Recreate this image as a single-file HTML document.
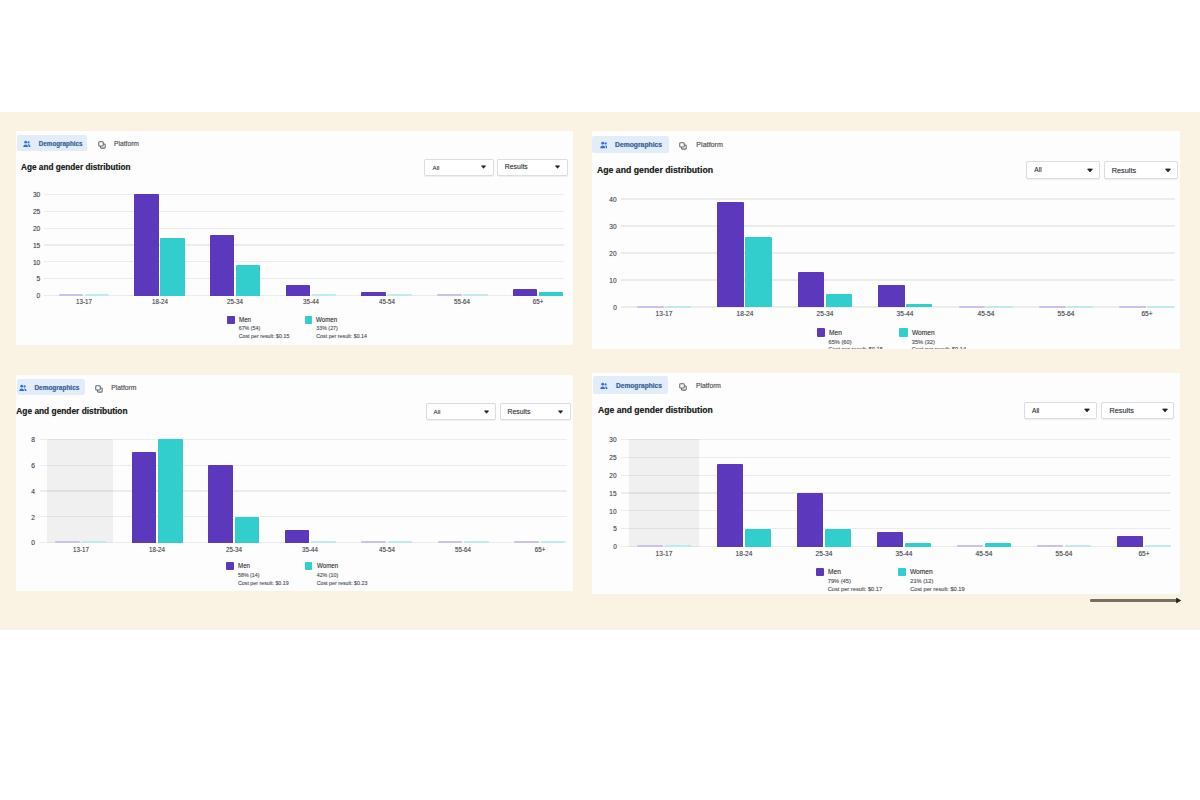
<!DOCTYPE html>
<html><head><meta charset="utf-8"><title>Age and gender distribution</title>
<style>
html,body{margin:0;padding:0;background:#fff;width:1200px;height:800px;overflow:hidden}
body{position:relative;font-family:"Liberation Sans",sans-serif}
div,span,svg{position:absolute;display:block}
span{white-space:nowrap;text-shadow:0 0 0.7px rgba(40,40,40,0.45)}
.band{left:0;top:112px;width:1200px;height:518px;background:#faf2e3}
.panel{background:#fdfdfd;overflow:hidden}
</style></head><body>
<div class="band"></div>
<div class="panel" style="left:16px;top:131px;width:557px;height:214px">
<div style="left:-16px;top:-131px;width:1200px;height:800px">
<div style="left:16.8px;top:134.5px;width:70.7px;height:16.5px;background:#e3edf9;border-radius:2px"></div>
<svg style="left:23.2px;top:140.05px" width="7.7" height="7.7" viewBox="0 0 16 16"><circle cx="5.5" cy="4.5" r="2.8" fill="#2d6ee0"/><path d="M0.5 14.5c0-3.2 2.2-5.3 5-5.3s5 2.1 5 5.3z" fill="#2d6ee0"/><circle cx="11.5" cy="5" r="2.3" fill="#2d6ee0"/><path d="M11.5 9c2.3 0 4 1.8 4 5.5h-3.6c0-2.2-.6-3.9-1.8-5.2.4-.2.9-.3 1.4-.3z" fill="#2d6ee0"/></svg>
<span style="left:38.75px;top:140.08px;font-size:6.3px;line-height:7.24px;color:#3a6aa8;font-weight:bold;">Demographics</span>
<svg style="left:98px;top:141px" width="8" height="8" viewBox="0 0 16 16" fill="none" stroke="#666a70" stroke-width="2.1"><rect x="1.5" y="1.5" width="9" height="8.5" rx="1.6"/><path d="M5 10v2.6a1.6 1.6 0 0 0 1.6 1.6h6.2a1.6 1.6 0 0 0 1.6-1.6v-5a1.6 1.6 0 0 0-1.6-1.6h-2.3"/></svg>
<span style="left:114px;top:139.94px;font-size:6.71px;line-height:7.72px;color:#55585e;font-weight:normal;">Platform</span>
<span style="left:21px;top:162.97px;font-size:8.22px;line-height:9.45px;color:#1c1e21;font-weight:bold;">Age and gender distribution</span>
<div style="left:424px;top:159px;width:70px;height:16.7px;border:1px solid #dcdde1;border-radius:2px;box-sizing:border-box;background:#fff;box-shadow:0 0.5px 1px rgba(0,0,0,0.06)"></div>
<span style="left:432.5px;top:163.78px;font-size:6.2px;line-height:7.13px;color:#3b3e44;font-weight:normal;">All</span>
<svg style="left:481.45px;top:165.39px" width="5.1" height="4.25" viewBox="0 0 6 5"><path d="M0.6 1 H5.4 L3 3.9 Z" fill="#222" stroke="#222" stroke-width="0.8" stroke-linejoin="round"/></svg>
<div style="left:497px;top:159px;width:70.5px;height:16.7px;border:1px solid #dcdde1;border-radius:2px;box-sizing:border-box;background:#fff;box-shadow:0 0.5px 1px rgba(0,0,0,0.06)"></div>
<span style="left:504.8px;top:163.38px;font-size:6.9px;line-height:7.93px;color:#3b3e44;font-weight:normal;">Results</span>
<svg style="left:555.25px;top:165.39px" width="5.1" height="4.25" viewBox="0 0 6 5"><path d="M0.6 1 H5.4 L3 3.9 Z" fill="#222" stroke="#222" stroke-width="0.8" stroke-linejoin="round"/></svg>
<div style="left:43.75px;top:294.9px;width:520.25px;height:1.2px;background:rgba(0,0,0,0.065)"></div>
<span style="left:40.3px;top:292.27px;width:0;font-size:6.67px;line-height:7.67px;color:#4d5056;font-weight:normal;"><span style="position:absolute;right:0;top:0;">0</span></span>
<div style="left:43.75px;top:278.05px;width:520.25px;height:1.2px;background:rgba(0,0,0,0.065)"></div>
<span style="left:40.3px;top:275.42px;width:0;font-size:6.67px;line-height:7.67px;color:#4d5056;font-weight:normal;"><span style="position:absolute;right:0;top:0;">5</span></span>
<div style="left:43.75px;top:261.2px;width:520.25px;height:1.2px;background:rgba(0,0,0,0.065)"></div>
<span style="left:40.3px;top:258.57px;width:0;font-size:6.67px;line-height:7.67px;color:#4d5056;font-weight:normal;"><span style="position:absolute;right:0;top:0;">10</span></span>
<div style="left:43.75px;top:244.35px;width:520.25px;height:1.2px;background:rgba(0,0,0,0.065)"></div>
<span style="left:40.3px;top:241.72px;width:0;font-size:6.67px;line-height:7.67px;color:#4d5056;font-weight:normal;"><span style="position:absolute;right:0;top:0;">15</span></span>
<div style="left:43.75px;top:227.5px;width:520.25px;height:1.2px;background:rgba(0,0,0,0.065)"></div>
<span style="left:40.3px;top:224.87px;width:0;font-size:6.67px;line-height:7.67px;color:#4d5056;font-weight:normal;"><span style="position:absolute;right:0;top:0;">20</span></span>
<div style="left:43.75px;top:210.65px;width:520.25px;height:1.2px;background:rgba(0,0,0,0.065)"></div>
<span style="left:40.3px;top:208.02px;width:0;font-size:6.67px;line-height:7.67px;color:#4d5056;font-weight:normal;"><span style="position:absolute;right:0;top:0;">25</span></span>
<div style="left:43.75px;top:193.8px;width:520.25px;height:1.2px;background:rgba(0,0,0,0.065)"></div>
<span style="left:40.3px;top:191.17px;width:0;font-size:6.67px;line-height:7.67px;color:#4d5056;font-weight:normal;"><span style="position:absolute;right:0;top:0;">30</span></span>
<div style="left:58.51px;top:294.3px;width:24.5px;height:1.8px;background:#cbc2ea;border-radius:1px"></div>
<div style="left:84.51px;top:294.3px;width:24.5px;height:1.8px;background:#c0ebeb;border-radius:1px"></div>
<span style="left:83.76px;top:298.25px;width:0;font-size:6.7px;line-height:7.7px;color:#4d5056;font-weight:normal;"><span style="position:absolute;left:0;top:0;transform:translateX(-50%) scaleX(0.93)">13-17</span></span>
<div style="left:134.25px;top:194.4px;width:24.5px;height:101.4px;background:#5c38bc;border-radius:1px 1px 0 0"></div>
<div style="left:160.25px;top:238.21px;width:24.5px;height:57.59px;background:#32cdcd;border-radius:1px 1px 0 0"></div>
<span style="left:159.5px;top:298.25px;width:0;font-size:6.7px;line-height:7.7px;color:#4d5056;font-weight:normal;"><span style="position:absolute;left:0;top:0;transform:translateX(-50%) scaleX(0.93)">18-24</span></span>
<div style="left:209.99px;top:234.84px;width:24.5px;height:60.96px;background:#5c38bc;border-radius:1px 1px 0 0"></div>
<div style="left:235.99px;top:265.17px;width:24.5px;height:30.63px;background:#32cdcd;border-radius:1px 1px 0 0"></div>
<span style="left:235.24px;top:298.25px;width:0;font-size:6.7px;line-height:7.7px;color:#4d5056;font-weight:normal;"><span style="position:absolute;left:0;top:0;transform:translateX(-50%) scaleX(0.93)">25-34</span></span>
<div style="left:285.73px;top:285.39px;width:24.5px;height:10.41px;background:#5c38bc;border-radius:1px 1px 0 0"></div>
<div style="left:311.73px;top:294.3px;width:24.5px;height:1.8px;background:#c0ebeb;border-radius:1px"></div>
<span style="left:310.98px;top:298.25px;width:0;font-size:6.7px;line-height:7.7px;color:#4d5056;font-weight:normal;"><span style="position:absolute;left:0;top:0;transform:translateX(-50%) scaleX(0.93)">35-44</span></span>
<div style="left:361.47px;top:292.13px;width:24.5px;height:3.67px;background:#5c38bc;border-radius:1px 1px 0 0"></div>
<div style="left:387.47px;top:294.3px;width:24.5px;height:1.8px;background:#c0ebeb;border-radius:1px"></div>
<span style="left:386.72px;top:298.25px;width:0;font-size:6.7px;line-height:7.7px;color:#4d5056;font-weight:normal;"><span style="position:absolute;left:0;top:0;transform:translateX(-50%) scaleX(0.93)">45-54</span></span>
<div style="left:437.21px;top:294.3px;width:24.5px;height:1.8px;background:#cbc2ea;border-radius:1px"></div>
<div style="left:463.21px;top:294.3px;width:24.5px;height:1.8px;background:#c0ebeb;border-radius:1px"></div>
<span style="left:462.46px;top:298.25px;width:0;font-size:6.7px;line-height:7.7px;color:#4d5056;font-weight:normal;"><span style="position:absolute;left:0;top:0;transform:translateX(-50%) scaleX(0.93)">55-64</span></span>
<div style="left:512.95px;top:288.76px;width:24.5px;height:7.04px;background:#5c38bc;border-radius:1px 1px 0 0"></div>
<div style="left:538.95px;top:292.13px;width:24.5px;height:3.67px;background:#32cdcd;border-radius:1px 1px 0 0"></div>
<span style="left:538.2px;top:298.25px;width:0;font-size:6.7px;line-height:7.7px;color:#4d5056;font-weight:normal;"><span style="position:absolute;left:0;top:0;transform:translateX(-50%) scaleX(0.93)">65+</span></span>
<div style="left:227.3px;top:316.2px;width:7.6px;height:7.6px;background:#5c38bc;border-radius:1px"></div>
<span style="left:238.7px;top:315.78px;font-size:6.82px;line-height:7.84px;color:#3d4046;font-weight:normal;transform:scaleX(0.91);transform-origin:0 50%;">Men</span>
<span style="left:238.7px;top:325.25px;font-size:5.3px;line-height:6.09px;color:#55585e;font-weight:normal;">67% (54)</span>
<span style="left:238.7px;top:333.39px;font-size:5.3px;line-height:6.09px;color:#55585e;font-weight:normal;">Cost per result: $0.15</span>
<div style="left:304.5px;top:316.2px;width:7.6px;height:7.6px;background:#32cdcd;border-radius:1px"></div>
<span style="left:316.3px;top:315.78px;font-size:6.82px;line-height:7.84px;color:#3d4046;font-weight:normal;transform:scaleX(0.91);transform-origin:0 50%;">Women</span>
<span style="left:316.3px;top:325.25px;font-size:5.3px;line-height:6.09px;color:#55585e;font-weight:normal;">33% (27)</span>
<span style="left:316.3px;top:333.39px;font-size:5.3px;line-height:6.09px;color:#55585e;font-weight:normal;">Cost per result: $0.14</span>
</div></div>
<div class="panel" style="left:592px;top:131px;width:588px;height:218px">
<div style="left:-592px;top:-131px;width:1200px;height:800px">
<div style="left:592px;top:135.5px;width:76.9px;height:17.1px;background:#e3edf9;border-radius:2px"></div>
<svg style="left:599.5px;top:141.05px" width="7.9" height="7.9" viewBox="0 0 16 16"><circle cx="5.5" cy="4.5" r="2.8" fill="#2d6ee0"/><path d="M0.5 14.5c0-3.2 2.2-5.3 5-5.3s5 2.1 5 5.3z" fill="#2d6ee0"/><circle cx="11.5" cy="5" r="2.3" fill="#2d6ee0"/><path d="M11.5 9c2.3 0 4 1.8 4 5.5h-3.6c0-2.2-.6-3.9-1.8-5.2.4-.2.9-.3 1.4-.3z" fill="#2d6ee0"/></svg>
<span style="left:615px;top:141.09px;font-size:6.79px;line-height:7.81px;color:#3a6aa8;font-weight:bold;">Demographics</span>
<svg style="left:679px;top:142.3px" width="8" height="8" viewBox="0 0 16 16" fill="none" stroke="#666a70" stroke-width="2.1"><rect x="1.5" y="1.5" width="9" height="8.5" rx="1.6"/><path d="M5 10v2.6a1.6 1.6 0 0 0 1.6 1.6h6.2a1.6 1.6 0 0 0 1.6-1.6v-5a1.6 1.6 0 0 0-1.6-1.6h-2.3"/></svg>
<span style="left:696.3px;top:140.98px;font-size:7.17px;line-height:8.25px;color:#55585e;font-weight:normal;">Platform</span>
<span style="left:597px;top:165.44px;font-size:8.71px;line-height:10.02px;color:#1c1e21;font-weight:bold;">Age and gender distribution</span>
<div style="left:1026px;top:161px;width:74px;height:18.2px;border:1px solid #dcdde1;border-radius:2px;box-sizing:border-box;background:#fff;box-shadow:0 0.5px 1px rgba(0,0,0,0.06)"></div>
<span style="left:1034.3px;top:166.31px;font-size:6.6px;line-height:7.59px;color:#3b3e44;font-weight:normal;">All</span>
<svg style="left:1086.5px;top:167.8px" width="6" height="5" viewBox="0 0 6 5"><path d="M0.6 1 H5.4 L3 3.9 Z" fill="#222" stroke="#222" stroke-width="0.8" stroke-linejoin="round"/></svg>
<div style="left:1103.5px;top:161px;width:74.5px;height:18.2px;border:1px solid #dcdde1;border-radius:2px;box-sizing:border-box;background:#fff;box-shadow:0 0.5px 1px rgba(0,0,0,0.06)"></div>
<span style="left:1111.8px;top:166.5px;font-size:7.3px;line-height:8.39px;color:#3b3e44;font-weight:normal;">Results</span>
<svg style="left:1165.3px;top:167.8px" width="6" height="5" viewBox="0 0 6 5"><path d="M0.6 1 H5.4 L3 3.9 Z" fill="#222" stroke="#222" stroke-width="0.8" stroke-linejoin="round"/></svg>
<div style="left:621px;top:306.4px;width:554px;height:1.2px;background:rgba(0,0,0,0.065)"></div>
<span style="left:617px;top:303.7px;width:0;font-size:6.78px;line-height:7.8px;color:#4d5056;font-weight:normal;"><span style="position:absolute;right:0;top:0;transform:scaleX(0.96);transform-origin:100% 50%;">0</span></span>
<div style="left:621px;top:279.4px;width:554px;height:1.2px;background:rgba(0,0,0,0.065)"></div>
<span style="left:617px;top:276.7px;width:0;font-size:6.78px;line-height:7.8px;color:#4d5056;font-weight:normal;"><span style="position:absolute;right:0;top:0;transform:scaleX(0.96);transform-origin:100% 50%;">10</span></span>
<div style="left:621px;top:252.4px;width:554px;height:1.2px;background:rgba(0,0,0,0.065)"></div>
<span style="left:617px;top:249.7px;width:0;font-size:6.78px;line-height:7.8px;color:#4d5056;font-weight:normal;"><span style="position:absolute;right:0;top:0;transform:scaleX(0.96);transform-origin:100% 50%;">20</span></span>
<div style="left:621px;top:225.4px;width:554px;height:1.2px;background:rgba(0,0,0,0.065)"></div>
<span style="left:617px;top:222.7px;width:0;font-size:6.78px;line-height:7.8px;color:#4d5056;font-weight:normal;"><span style="position:absolute;right:0;top:0;transform:scaleX(0.96);transform-origin:100% 50%;">30</span></span>
<div style="left:621px;top:198.4px;width:554px;height:1.2px;background:rgba(0,0,0,0.065)"></div>
<span style="left:617px;top:195.7px;width:0;font-size:6.78px;line-height:7.8px;color:#4d5056;font-weight:normal;"><span style="position:absolute;right:0;top:0;transform:scaleX(0.96);transform-origin:100% 50%;">40</span></span>
<div style="left:637px;top:305.8px;width:26.5px;height:1.8px;background:#cbc2ea;border-radius:1px"></div>
<div style="left:664.7px;top:305.8px;width:26.5px;height:1.8px;background:#c0ebeb;border-radius:1px"></div>
<span style="left:664.1px;top:310.1px;width:0;font-size:7.13px;line-height:8.2px;color:#4d5056;font-weight:normal;"><span style="position:absolute;left:0;top:0;transform:translateX(-50%) scaleX(0.93)">13-17</span></span>
<div style="left:717.4px;top:201.7px;width:26.5px;height:105.6px;background:#5c38bc;border-radius:1px 1px 0 0"></div>
<div style="left:745.1px;top:236.8px;width:26.5px;height:70.5px;background:#32cdcd;border-radius:1px 1px 0 0"></div>
<span style="left:744.5px;top:310.1px;width:0;font-size:7.13px;line-height:8.2px;color:#4d5056;font-weight:normal;"><span style="position:absolute;left:0;top:0;transform:translateX(-50%) scaleX(0.93)">18-24</span></span>
<div style="left:797.8px;top:271.9px;width:26.5px;height:35.4px;background:#5c38bc;border-radius:1px 1px 0 0"></div>
<div style="left:825.5px;top:293.5px;width:26.5px;height:13.8px;background:#32cdcd;border-radius:1px 1px 0 0"></div>
<span style="left:824.9px;top:310.1px;width:0;font-size:7.13px;line-height:8.2px;color:#4d5056;font-weight:normal;"><span style="position:absolute;left:0;top:0;transform:translateX(-50%) scaleX(0.93)">25-34</span></span>
<div style="left:878.2px;top:285.4px;width:26.5px;height:21.9px;background:#5c38bc;border-radius:1px 1px 0 0"></div>
<div style="left:905.9px;top:304.3px;width:26.5px;height:3px;background:#32cdcd;border-radius:1px 1px 0 0"></div>
<span style="left:905.3px;top:310.1px;width:0;font-size:7.13px;line-height:8.2px;color:#4d5056;font-weight:normal;"><span style="position:absolute;left:0;top:0;transform:translateX(-50%) scaleX(0.93)">35-44</span></span>
<div style="left:958.6px;top:305.8px;width:26.5px;height:1.8px;background:#cbc2ea;border-radius:1px"></div>
<div style="left:986.3px;top:305.8px;width:26.5px;height:1.8px;background:#c0ebeb;border-radius:1px"></div>
<span style="left:985.7px;top:310.1px;width:0;font-size:7.13px;line-height:8.2px;color:#4d5056;font-weight:normal;"><span style="position:absolute;left:0;top:0;transform:translateX(-50%) scaleX(0.93)">45-54</span></span>
<div style="left:1039px;top:305.8px;width:26.5px;height:1.8px;background:#cbc2ea;border-radius:1px"></div>
<div style="left:1066.7px;top:305.8px;width:26.5px;height:1.8px;background:#c0ebeb;border-radius:1px"></div>
<span style="left:1066.1px;top:310.1px;width:0;font-size:7.13px;line-height:8.2px;color:#4d5056;font-weight:normal;"><span style="position:absolute;left:0;top:0;transform:translateX(-50%) scaleX(0.93)">55-64</span></span>
<div style="left:1119.4px;top:305.8px;width:26.5px;height:1.8px;background:#cbc2ea;border-radius:1px"></div>
<div style="left:1147.1px;top:305.8px;width:26.5px;height:1.8px;background:#c0ebeb;border-radius:1px"></div>
<span style="left:1146.5px;top:310.1px;width:0;font-size:7.13px;line-height:8.2px;color:#4d5056;font-weight:normal;"><span style="position:absolute;left:0;top:0;transform:translateX(-50%) scaleX(0.93)">65+</span></span>
<div style="left:816.6px;top:328.2px;width:8.6px;height:8.6px;background:#5c38bc;border-radius:1px"></div>
<span style="left:828.5px;top:328.78px;font-size:7.26px;line-height:8.35px;color:#3d4046;font-weight:normal;transform:scaleX(0.91);transform-origin:0 50%;">Men</span>
<span style="left:828.5px;top:338.62px;font-size:5.7px;line-height:6.55px;color:#55585e;font-weight:normal;">65% (60)</span>
<span style="left:828.5px;top:346.42px;font-size:5.7px;line-height:6.55px;color:#55585e;font-weight:normal;">Cost per result: $0.15</span>
<div style="left:899.1px;top:328.2px;width:8.6px;height:8.6px;background:#32cdcd;border-radius:1px"></div>
<span style="left:911.75px;top:328.78px;font-size:7.26px;line-height:8.35px;color:#3d4046;font-weight:normal;transform:scaleX(0.91);transform-origin:0 50%;">Women</span>
<span style="left:911.75px;top:338.62px;font-size:5.7px;line-height:6.55px;color:#55585e;font-weight:normal;">35% (32)</span>
<span style="left:911.75px;top:346.42px;font-size:5.7px;line-height:6.55px;color:#55585e;font-weight:normal;">Cost per result: $0.14</span>
</div></div>
<div class="panel" style="left:16px;top:375px;width:557px;height:216px">
<div style="left:-16px;top:-375px;width:1200px;height:800px">
<div style="left:16.5px;top:379.1px;width:68.1px;height:15.7px;background:#e3edf9;border-radius:2px"></div>
<svg style="left:19.2px;top:384px" width="7.8" height="7.8" viewBox="0 0 16 16"><circle cx="5.5" cy="4.5" r="2.8" fill="#2d6ee0"/><path d="M0.5 14.5c0-3.2 2.2-5.3 5-5.3s5 2.1 5 5.3z" fill="#2d6ee0"/><circle cx="11.5" cy="5" r="2.3" fill="#2d6ee0"/><path d="M11.5 9c2.3 0 4 1.8 4 5.5h-3.6c0-2.2-.6-3.9-1.8-5.2.4-.2.9-.3 1.4-.3z" fill="#2d6ee0"/></svg>
<span style="left:34.4px;top:383.58px;font-size:6.48px;line-height:7.45px;color:#3a6aa8;font-weight:bold;">Demographics</span>
<svg style="left:95px;top:384.6px" width="8" height="8" viewBox="0 0 16 16" fill="none" stroke="#666a70" stroke-width="2.1"><rect x="1.5" y="1.5" width="9" height="8.5" rx="1.6"/><path d="M5 10v2.6a1.6 1.6 0 0 0 1.6 1.6h6.2a1.6 1.6 0 0 0 1.6-1.6v-5a1.6 1.6 0 0 0-1.6-1.6h-2.3"/></svg>
<span style="left:111.3px;top:383.51px;font-size:6.77px;line-height:7.78px;color:#55585e;font-weight:normal;">Platform</span>
<span style="left:16.3px;top:407.14px;font-size:8.36px;line-height:9.62px;color:#1c1e21;font-weight:bold;">Age and gender distribution</span>
<div style="left:425.6px;top:403.2px;width:70.7px;height:17.1px;border:1px solid #dcdde1;border-radius:2px;box-sizing:border-box;background:#fff;box-shadow:0 0.5px 1px rgba(0,0,0,0.06)"></div>
<span style="left:433.5px;top:408.19px;font-size:6.2px;line-height:7.13px;color:#3b3e44;font-weight:normal;">All</span>
<svg style="left:483.95px;top:409.8px" width="5.1" height="4.25" viewBox="0 0 6 5"><path d="M0.6 1 H5.4 L3 3.9 Z" fill="#222" stroke="#222" stroke-width="0.8" stroke-linejoin="round"/></svg>
<div style="left:499.9px;top:403.2px;width:71.1px;height:17.1px;border:1px solid #dcdde1;border-radius:2px;box-sizing:border-box;background:#fff;box-shadow:0 0.5px 1px rgba(0,0,0,0.06)"></div>
<span style="left:507.5px;top:407.78px;font-size:6.9px;line-height:7.93px;color:#3b3e44;font-weight:normal;">Results</span>
<svg style="left:558.45px;top:409.8px" width="5.1" height="4.25" viewBox="0 0 6 5"><path d="M0.6 1 H5.4 L3 3.9 Z" fill="#222" stroke="#222" stroke-width="0.8" stroke-linejoin="round"/></svg>
<div style="left:47px;top:438.6px;width:66.4px;height:104px;background:#f0f0f0"></div>
<div style="left:40px;top:542px;width:527px;height:1.2px;background:rgba(0,0,0,0.065)"></div>
<span style="left:35px;top:539.37px;width:0;font-size:6.67px;line-height:7.67px;color:#4d5056;font-weight:normal;"><span style="position:absolute;right:0;top:0;">0</span></span>
<div style="left:40px;top:516.2px;width:527px;height:1.2px;background:rgba(0,0,0,0.065)"></div>
<span style="left:35px;top:513.57px;width:0;font-size:6.67px;line-height:7.67px;color:#4d5056;font-weight:normal;"><span style="position:absolute;right:0;top:0;">2</span></span>
<div style="left:40px;top:490.4px;width:527px;height:1.2px;background:rgba(0,0,0,0.065)"></div>
<span style="left:35px;top:487.77px;width:0;font-size:6.67px;line-height:7.67px;color:#4d5056;font-weight:normal;"><span style="position:absolute;right:0;top:0;">4</span></span>
<div style="left:40px;top:464.6px;width:527px;height:1.2px;background:rgba(0,0,0,0.065)"></div>
<span style="left:35px;top:461.97px;width:0;font-size:6.67px;line-height:7.67px;color:#4d5056;font-weight:normal;"><span style="position:absolute;right:0;top:0;">6</span></span>
<div style="left:40px;top:438.8px;width:527px;height:1.2px;background:rgba(0,0,0,0.065)"></div>
<span style="left:35px;top:436.17px;width:0;font-size:6.67px;line-height:7.67px;color:#4d5056;font-weight:normal;"><span style="position:absolute;right:0;top:0;">8</span></span>
<div style="left:55.4px;top:541.4px;width:24.5px;height:1.8px;background:#cbc2ea;border-radius:1px"></div>
<div style="left:81.5px;top:541.4px;width:24.5px;height:1.8px;background:#c0ebeb;border-radius:1px"></div>
<span style="left:80.7px;top:545.75px;width:0;font-size:6.7px;line-height:7.7px;color:#4d5056;font-weight:normal;"><span style="position:absolute;left:0;top:0;transform:translateX(-50%) scaleX(0.93)">13-17</span></span>
<div style="left:131.9px;top:452.3px;width:24.5px;height:90.6px;background:#5c38bc;border-radius:1px 1px 0 0"></div>
<div style="left:158px;top:439.4px;width:24.5px;height:103.5px;background:#32cdcd;border-radius:1px 1px 0 0"></div>
<span style="left:157.2px;top:545.75px;width:0;font-size:6.7px;line-height:7.7px;color:#4d5056;font-weight:normal;"><span style="position:absolute;left:0;top:0;transform:translateX(-50%) scaleX(0.93)">18-24</span></span>
<div style="left:208.4px;top:465.2px;width:24.5px;height:77.7px;background:#5c38bc;border-radius:1px 1px 0 0"></div>
<div style="left:234.5px;top:516.8px;width:24.5px;height:26.1px;background:#32cdcd;border-radius:1px 1px 0 0"></div>
<span style="left:233.7px;top:545.75px;width:0;font-size:6.7px;line-height:7.7px;color:#4d5056;font-weight:normal;"><span style="position:absolute;left:0;top:0;transform:translateX(-50%) scaleX(0.93)">25-34</span></span>
<div style="left:284.9px;top:529.7px;width:24.5px;height:13.2px;background:#5c38bc;border-radius:1px 1px 0 0"></div>
<div style="left:311px;top:541.4px;width:24.5px;height:1.8px;background:#c0ebeb;border-radius:1px"></div>
<span style="left:310.2px;top:545.75px;width:0;font-size:6.7px;line-height:7.7px;color:#4d5056;font-weight:normal;"><span style="position:absolute;left:0;top:0;transform:translateX(-50%) scaleX(0.93)">35-44</span></span>
<div style="left:361.4px;top:541.4px;width:24.5px;height:1.8px;background:#cbc2ea;border-radius:1px"></div>
<div style="left:387.5px;top:541.4px;width:24.5px;height:1.8px;background:#c0ebeb;border-radius:1px"></div>
<span style="left:386.7px;top:545.75px;width:0;font-size:6.7px;line-height:7.7px;color:#4d5056;font-weight:normal;"><span style="position:absolute;left:0;top:0;transform:translateX(-50%) scaleX(0.93)">45-54</span></span>
<div style="left:437.9px;top:541.4px;width:24.5px;height:1.8px;background:#cbc2ea;border-radius:1px"></div>
<div style="left:464px;top:541.4px;width:24.5px;height:1.8px;background:#c0ebeb;border-radius:1px"></div>
<span style="left:463.2px;top:545.75px;width:0;font-size:6.7px;line-height:7.7px;color:#4d5056;font-weight:normal;"><span style="position:absolute;left:0;top:0;transform:translateX(-50%) scaleX(0.93)">55-64</span></span>
<div style="left:514.4px;top:541.4px;width:24.5px;height:1.8px;background:#cbc2ea;border-radius:1px"></div>
<div style="left:540.5px;top:541.4px;width:24.5px;height:1.8px;background:#c0ebeb;border-radius:1px"></div>
<span style="left:539.7px;top:545.75px;width:0;font-size:6.7px;line-height:7.7px;color:#4d5056;font-weight:normal;"><span style="position:absolute;left:0;top:0;transform:translateX(-50%) scaleX(0.93)">65+</span></span>
<div style="left:226.2px;top:562.4px;width:7.8px;height:7.8px;background:#5c38bc;border-radius:1px"></div>
<span style="left:238px;top:561.68px;font-size:6.82px;line-height:7.84px;color:#3d4046;font-weight:normal;transform:scaleX(0.91);transform-origin:0 50%;">Men</span>
<span style="left:238px;top:572.25px;font-size:5.3px;line-height:6.09px;color:#55585e;font-weight:normal;">58% (14)</span>
<span style="left:238px;top:580.39px;font-size:5.3px;line-height:6.09px;color:#55585e;font-weight:normal;">Cost per result: $0.19</span>
<div style="left:304.5px;top:562.4px;width:7.8px;height:7.8px;background:#32cdcd;border-radius:1px"></div>
<span style="left:316.7px;top:561.68px;font-size:6.82px;line-height:7.84px;color:#3d4046;font-weight:normal;transform:scaleX(0.91);transform-origin:0 50%;">Women</span>
<span style="left:316.7px;top:572.25px;font-size:5.3px;line-height:6.09px;color:#55585e;font-weight:normal;">42% (10)</span>
<span style="left:316.7px;top:580.39px;font-size:5.3px;line-height:6.09px;color:#55585e;font-weight:normal;">Cost per result: $0.23</span>
</div></div>
<div class="panel" style="left:592px;top:372.5px;width:588px;height:221px">
<div style="left:-592px;top:-372.5px;width:1200px;height:800px">
<div style="left:593px;top:376.25px;width:75px;height:17.5px;background:#e3edf9;border-radius:2px"></div>
<svg style="left:600px;top:382.2px" width="7.8" height="7.8" viewBox="0 0 16 16"><circle cx="5.5" cy="4.5" r="2.8" fill="#2d6ee0"/><path d="M0.5 14.5c0-3.2 2.2-5.3 5-5.3s5 2.1 5 5.3z" fill="#2d6ee0"/><circle cx="11.5" cy="5" r="2.3" fill="#2d6ee0"/><path d="M11.5 9c2.3 0 4 1.8 4 5.5h-3.6c0-2.2-.6-3.9-1.8-5.2.4-.2.9-.3 1.4-.3z" fill="#2d6ee0"/></svg>
<span style="left:616px;top:382.24px;font-size:6.62px;line-height:7.62px;color:#3a6aa8;font-weight:bold;">Demographics</span>
<svg style="left:679px;top:383.35px" width="8" height="8" viewBox="0 0 16 16" fill="none" stroke="#666a70" stroke-width="2.1"><rect x="1.5" y="1.5" width="9" height="8.5" rx="1.6"/><path d="M5 10v2.6a1.6 1.6 0 0 0 1.6 1.6h6.2a1.6 1.6 0 0 0 1.6-1.6v-5a1.6 1.6 0 0 0-1.6-1.6h-2.3"/></svg>
<span style="left:696px;top:382.29px;font-size:6.71px;line-height:7.72px;color:#55585e;font-weight:normal;">Platform</span>
<span style="left:598px;top:406.29px;font-size:8.62px;line-height:9.92px;color:#1c1e21;font-weight:bold;">Age and gender distribution</span>
<div style="left:1023.6px;top:402px;width:73.2px;height:17.3px;border:1px solid #dcdde1;border-radius:2px;box-sizing:border-box;background:#fff;box-shadow:0 0.5px 1px rgba(0,0,0,0.06)"></div>
<span style="left:1032px;top:406.85px;font-size:6.6px;line-height:7.59px;color:#3b3e44;font-weight:normal;">All</span>
<svg style="left:1084px;top:408.35px" width="6" height="5" viewBox="0 0 6 5"><path d="M0.6 1 H5.4 L3 3.9 Z" fill="#222" stroke="#222" stroke-width="0.8" stroke-linejoin="round"/></svg>
<div style="left:1101.4px;top:402px;width:73px;height:17.3px;border:1px solid #dcdde1;border-radius:2px;box-sizing:border-box;background:#fff;box-shadow:0 0.5px 1px rgba(0,0,0,0.06)"></div>
<span style="left:1109.5px;top:407.05px;font-size:7.3px;line-height:8.39px;color:#3b3e44;font-weight:normal;">Results</span>
<svg style="left:1162px;top:408.35px" width="6" height="5" viewBox="0 0 6 5"><path d="M0.6 1 H5.4 L3 3.9 Z" fill="#222" stroke="#222" stroke-width="0.8" stroke-linejoin="round"/></svg>
<div style="left:629px;top:438.6px;width:70px;height:108px;background:#f0f0f0"></div>
<div style="left:621px;top:546px;width:550px;height:1.2px;background:rgba(0,0,0,0.065)"></div>
<span style="left:617px;top:543.3px;width:0;font-size:6.78px;line-height:7.8px;color:#4d5056;font-weight:normal;"><span style="position:absolute;right:0;top:0;transform:scaleX(0.96);transform-origin:100% 50%;">0</span></span>
<div style="left:621px;top:528.13px;width:550px;height:1.2px;background:rgba(0,0,0,0.065)"></div>
<span style="left:617px;top:525.43px;width:0;font-size:6.78px;line-height:7.8px;color:#4d5056;font-weight:normal;"><span style="position:absolute;right:0;top:0;transform:scaleX(0.96);transform-origin:100% 50%;">5</span></span>
<div style="left:621px;top:510.27px;width:550px;height:1.2px;background:rgba(0,0,0,0.065)"></div>
<span style="left:617px;top:507.57px;width:0;font-size:6.78px;line-height:7.8px;color:#4d5056;font-weight:normal;"><span style="position:absolute;right:0;top:0;transform:scaleX(0.96);transform-origin:100% 50%;">10</span></span>
<div style="left:621px;top:492.4px;width:550px;height:1.2px;background:rgba(0,0,0,0.065)"></div>
<span style="left:617px;top:489.7px;width:0;font-size:6.78px;line-height:7.8px;color:#4d5056;font-weight:normal;"><span style="position:absolute;right:0;top:0;transform:scaleX(0.96);transform-origin:100% 50%;">15</span></span>
<div style="left:621px;top:474.53px;width:550px;height:1.2px;background:rgba(0,0,0,0.065)"></div>
<span style="left:617px;top:471.83px;width:0;font-size:6.78px;line-height:7.8px;color:#4d5056;font-weight:normal;"><span style="position:absolute;right:0;top:0;transform:scaleX(0.96);transform-origin:100% 50%;">20</span></span>
<div style="left:621px;top:456.67px;width:550px;height:1.2px;background:rgba(0,0,0,0.065)"></div>
<span style="left:617px;top:453.97px;width:0;font-size:6.78px;line-height:7.8px;color:#4d5056;font-weight:normal;"><span style="position:absolute;right:0;top:0;transform:scaleX(0.96);transform-origin:100% 50%;">25</span></span>
<div style="left:621px;top:438.8px;width:550px;height:1.2px;background:rgba(0,0,0,0.065)"></div>
<span style="left:617px;top:436.1px;width:0;font-size:6.78px;line-height:7.8px;color:#4d5056;font-weight:normal;"><span style="position:absolute;right:0;top:0;transform:scaleX(0.96);transform-origin:100% 50%;">30</span></span>
<div style="left:637.45px;top:545.4px;width:26px;height:1.8px;background:#cbc2ea;border-radius:1px"></div>
<div style="left:664.95px;top:545.4px;width:26px;height:1.8px;background:#c0ebeb;border-radius:1px"></div>
<span style="left:664.2px;top:549.6px;width:0;font-size:7.13px;line-height:8.2px;color:#4d5056;font-weight:normal;"><span style="position:absolute;left:0;top:0;transform:translateX(-50%) scaleX(0.93)">13-17</span></span>
<div style="left:717.45px;top:464.41px;width:26px;height:82.49px;background:#5c38bc;border-radius:1px 1px 0 0"></div>
<div style="left:744.95px;top:528.73px;width:26px;height:18.17px;background:#32cdcd;border-radius:1px 1px 0 0"></div>
<span style="left:744.2px;top:549.6px;width:0;font-size:7.13px;line-height:8.2px;color:#4d5056;font-weight:normal;"><span style="position:absolute;left:0;top:0;transform:translateX(-50%) scaleX(0.93)">18-24</span></span>
<div style="left:797.45px;top:493px;width:26px;height:53.9px;background:#5c38bc;border-radius:1px 1px 0 0"></div>
<div style="left:824.95px;top:528.73px;width:26px;height:18.17px;background:#32cdcd;border-radius:1px 1px 0 0"></div>
<span style="left:824.2px;top:549.6px;width:0;font-size:7.13px;line-height:8.2px;color:#4d5056;font-weight:normal;"><span style="position:absolute;left:0;top:0;transform:translateX(-50%) scaleX(0.93)">25-34</span></span>
<div style="left:877.45px;top:532.31px;width:26px;height:14.59px;background:#5c38bc;border-radius:1px 1px 0 0"></div>
<div style="left:904.95px;top:543.03px;width:26px;height:3.87px;background:#32cdcd;border-radius:1px 1px 0 0"></div>
<span style="left:904.2px;top:549.6px;width:0;font-size:7.13px;line-height:8.2px;color:#4d5056;font-weight:normal;"><span style="position:absolute;left:0;top:0;transform:translateX(-50%) scaleX(0.93)">35-44</span></span>
<div style="left:957.45px;top:545.4px;width:26px;height:1.8px;background:#cbc2ea;border-radius:1px"></div>
<div style="left:984.95px;top:543.03px;width:26px;height:3.87px;background:#32cdcd;border-radius:1px 1px 0 0"></div>
<span style="left:984.2px;top:549.6px;width:0;font-size:7.13px;line-height:8.2px;color:#4d5056;font-weight:normal;"><span style="position:absolute;left:0;top:0;transform:translateX(-50%) scaleX(0.93)">45-54</span></span>
<div style="left:1037.45px;top:545.4px;width:26px;height:1.8px;background:#cbc2ea;border-radius:1px"></div>
<div style="left:1064.95px;top:545.4px;width:26px;height:1.8px;background:#c0ebeb;border-radius:1px"></div>
<span style="left:1064.2px;top:549.6px;width:0;font-size:7.13px;line-height:8.2px;color:#4d5056;font-weight:normal;"><span style="position:absolute;left:0;top:0;transform:translateX(-50%) scaleX(0.93)">55-64</span></span>
<div style="left:1117.45px;top:535.88px;width:26px;height:11.02px;background:#5c38bc;border-radius:1px 1px 0 0"></div>
<div style="left:1144.95px;top:545.4px;width:26px;height:1.8px;background:#c0ebeb;border-radius:1px"></div>
<span style="left:1144.2px;top:549.6px;width:0;font-size:7.13px;line-height:8.2px;color:#4d5056;font-weight:normal;"><span style="position:absolute;left:0;top:0;transform:translateX(-50%) scaleX(0.93)">65+</span></span>
<div style="left:815.55px;top:567.9px;width:8.4px;height:8.4px;background:#5c38bc;border-radius:1px"></div>
<span style="left:827.75px;top:567.63px;font-size:7.26px;line-height:8.35px;color:#3d4046;font-weight:normal;transform:scaleX(0.91);transform-origin:0 50%;">Men</span>
<span style="left:827.75px;top:577.52px;font-size:5.7px;line-height:6.55px;color:#55585e;font-weight:normal;">79% (45)</span>
<span style="left:827.75px;top:586.27px;font-size:5.7px;line-height:6.55px;color:#55585e;font-weight:normal;">Cost per result: $0.17</span>
<div style="left:897.6px;top:567.9px;width:8.4px;height:8.4px;background:#32cdcd;border-radius:1px"></div>
<span style="left:910.25px;top:567.63px;font-size:7.26px;line-height:8.35px;color:#3d4046;font-weight:normal;transform:scaleX(0.91);transform-origin:0 50%;">Women</span>
<span style="left:910.25px;top:577.52px;font-size:5.7px;line-height:6.55px;color:#55585e;font-weight:normal;">21% (12)</span>
<span style="left:910.25px;top:586.27px;font-size:5.7px;line-height:6.55px;color:#55585e;font-weight:normal;">Cost per result: $0.19</span>
</div></div>
<div style="left:1089.5px;top:599.2px;width:88px;height:2.6px;background:#776f62;border-radius:1.2px"></div>
<svg style="left:1174px;top:596px" width="8" height="9" viewBox="0 0 8 9"><path d="M2.6 2.3 L6.5 4.5 L2.6 6.7 Z" fill="#2a2622" stroke="#2a2622" stroke-width="1" stroke-linejoin="round"/></svg>
</body></html>
